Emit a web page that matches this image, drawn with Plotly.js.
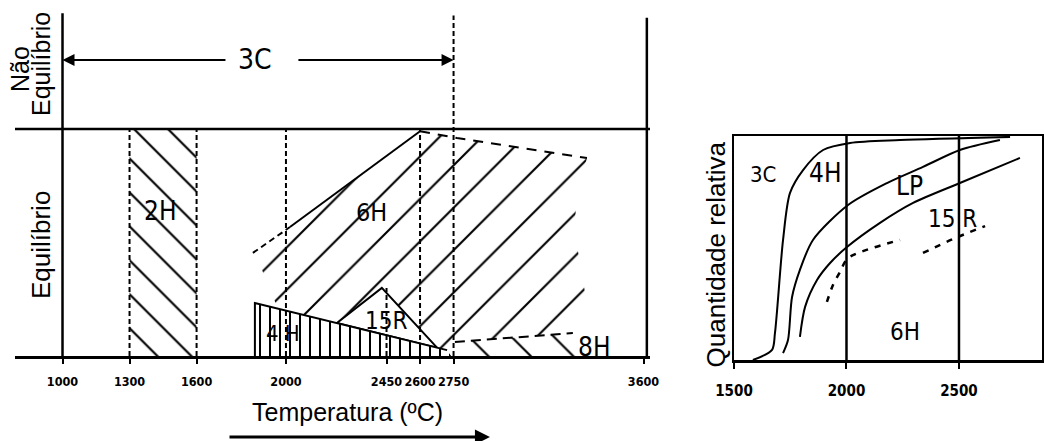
<!DOCTYPE html>
<html>
<head>
<meta charset="utf-8">
<script src="https://cdn.plot.ly/plotly-3.0.1.min.js"></script>
<style>html,body{margin:0;padding:0;background:#fff}#chart{width:1044px;height:441px}</style>
</head>
<body>
<div id="chart"></div>
<script>
// ---------- LEFT PANEL DATA (temperature ºC, relative height: 0 = axis, 100 = equilibrium limit) ----------
const leftTickVals = [1000, 1300, 1600, 2000, 2450, 2600, 2750, 3600];
const leftTickText = ['1000', '1300', '1600', '2000', '2450', '2600', '2750', '3600'];

const region2H_T = [1300, 1600, 1600, 1300];
const region2H_v = [0, 0, 100, 100];

const region6H_T = [1852, 2018, 2600, 2765, 3347, 3307, 3289, 3338, 3159, 2756, 2721, 1964, 1893];
const region6H_v = [45.4, 56.8, 99, 96, 87.2, 73, 56.4, 28.2, 7.9, 6.2, 2.6, 20.8, 37.9];

const region15R_T = [2228, 2429, 2676, 2228];
const region15R_v = [14.5, 30, 3.7, 14.5];

const region4H_T = [1861, 1861, 2740, 2721];
const region4H_v = [23.3, 0, 0, 2.6];

const region8H_T = [2721, 2756, 3284, 3330, 2740];
const region8H_v = [2.6, 6.2, 10.1, 0, 0];

const edge6H_dash_T = [1852, 2018];
const edge6H_dash_v = [45.4, 56.8];
const edge6H_solid_T = [2018, 2600];
const edge6H_solid_v = [56.8, 99];
const edge6H_top_T = [2600, 2765, 3347];
const edge6H_top_v = [99, 96, 87.2];
const edge4H_T = [1861, 1861, 2721];
const edge4H_v = [0, 23.3, 2.6];
const edge8H_T = [2756, 3284];
const edge8H_v = [6.2, 10.1];

const dashTemps = [1300, 1600, 2000, 2450, 2600, 2750];
const dashTops = [100, 100, 100, 30, 100, 150];

const axisLeftT = 1000, axisRightT = 3615;
const axisLeftV = [-2.6, 151], axisRightV = [-1, 149];
const equilibriumV = 100;
const leftRange = [787.4, 3629.1];
const leftVRange = [0, 152.4];

const arrow3C_v = 130.4;
const arrow3C_left = [1736, 1000];
const arrow3C_right = [2049, 2750];

const leftLabels = ['3C', '2H', '6H', '4 H', '15R', '8H'];
const leftLabelT = [1861, 1436, 2381, 1988, 2448, 3379];
const leftLabelV = [130.4, 63.9, 63, 10.1, 15.4, 4.0];
const leftLabelSize = [28, 26, 25, 22, 24, 26];

// ---------- RIGHT PANEL DATA (temperature ºC, relative quantity 0..1) ----------
const rightTickVals = [1500, 2000, 2500];
const rightTickText = ['1500', '2000', '2500'];
const rightRange = [1500, 2869];

const c3C_T = [1584, 1669, 1682, 1718, 1749, 1807, 1896, 2016, 2238, 2727];
const c3C_v = [0, 0.045, 0.12, 0.536, 0.746, 0.848, 0.9375, 0.969, 0.982, 0.996];
const cLP_T = [1718, 1740, 1758, 1793, 1851, 2007, 2180, 2340, 2504, 2682];
const cLP_v = [0.031, 0.089, 0.281, 0.402, 0.536, 0.692, 0.79, 0.862, 0.9375, 0.982];
const c15R_T = [1793, 1816, 1869, 1927, 2002, 2149, 2296, 2504, 2771];
const c15R_v = [0.103, 0.237, 0.357, 0.433, 0.504, 0.612, 0.701, 0.79, 0.902];
const c6H_T = [1913, 1940, 1971, 2007, 2238, null, 2340, 2473, 2616];
const c6H_v = [0.259, 0.335, 0.393, 0.455, 0.536, null, 0.478, 0.54, 0.598];
const gridTemps = [2000, 2500];

const rightLabels = ['3C', '4H', 'LP', '15 R', '6H'];
const rightLabelT = [1631, 1904, 2278, 2470, 2260];
const rightLabelV = [0.826, 0.835, 0.777, 0.63, 0.125];
const rightLabelSize = [22, 26, 26, 24, 24];

// ---------- STYLE ----------
const HAND = '"DejaVu Sans Condensed", "Liberation Sans Narrow", "Arial Narrow", sans-serif';
const SANS = '"Liberation Sans", Arial, sans-serif';
const K = 'black';

function poly(x, y, pattern, xa, ya) {
  return {
    type: 'scatter', mode: 'lines', x: x, y: y, xaxis: xa, yaxis: ya,
    fill: 'toself', line: {width: 0, color: K}, hoverinfo: 'skip',
    fillcolor: 'rgba(255,255,255,0)',
    fillpattern: pattern
  };
}
function line(x, y, xa, ya, width, dash, shape) {
  return {type: 'scatter', mode: 'lines', x: x, y: y, xaxis: xa, yaxis: ya,
    line: {color: K, width: width, dash: dash || 'solid', shape: shape || 'linear', smoothing: 0.8},
    hoverinfo: 'skip', connectgaps: false};
}

const traces = [];
// hatched regions
traces.push(poly(region2H_T, region2H_v, {shape: '\\', size: 24, solidity: 0.09, fgcolor: K, bgcolor: 'white'}, 'x', 'y'));
traces.push(poly(region6H_T, region6H_v, {shape: '/', size: 30, solidity: 0.07, fgcolor: K, bgcolor: 'white'}, 'x', 'y'));
traces.push({type: 'scatter', mode: 'lines', x: region15R_T, y: region15R_v, fill: 'toself', fillcolor: 'white',
  line: {color: K, width: 2}, hoverinfo: 'skip'});
traces.push(poly(region4H_T, region4H_v, {shape: '|', size: 10, solidity: 0.2, fgcolor: K, bgcolor: 'white'}, 'x', 'y'));
traces.push(poly(region8H_T, region8H_v, {shape: '\\', size: 30, solidity: 0.07, fgcolor: K, bgcolor: 'white'}, 'x', 'y'));

// boundaries
traces.push(line(edge6H_dash_T, edge6H_dash_v, 'x', 'y', 2, '6px,4px'));
traces.push(line(edge6H_solid_T, edge6H_solid_v, 'x', 'y', 2));
traces.push(line(edge6H_top_T, edge6H_top_v, 'x', 'y', 2, '10px,8px'));
traces.push(line(edge4H_T, edge4H_v, 'x', 'y', 2));
traces.push(line(edge8H_T, edge8H_v, 'x', 'y', 2, '10px,6px'));

// dashed verticals
const dx = [], dy = [];
dashTemps.forEach((t, i) => { dx.push(t, t, null); dy.push(0, dashTops[i], null); });
traces.push(line(dx, dy, 'x', 'y', 2, '5px,3px'));

// frame lines
traces.push(line([axisLeftT, axisLeftT], axisLeftV, 'x', 'y', 2.5));
traces.push(line([axisRightT, axisRightT], axisRightV, 'x', 'y', 2.5));
traces.push(line(leftRange, [equilibriumV, equilibriumV], 'x', 'y', 2.5));

// right panel
const gx = [], gy = [];
gridTemps.forEach(t => { gx.push(t, t, null); gy.push(0, 1, null); });
traces.push(line(gx, gy, 'x2', 'y2', 2.5));
traces.push(line(c3C_T, c3C_v, 'x2', 'y2', 2, 'solid', 'spline'));
traces.push(line(cLP_T, cLP_v, 'x2', 'y2', 2, 'solid', 'spline'));
traces.push(line(c15R_T, c15R_v, 'x2', 'y2', 2, 'solid', 'spline'));
traces.push(line(c6H_T, c6H_v, 'x2', 'y2', 2.5, '6px,7px', 'spline'));

const annotations = [];
leftLabels.forEach((t, i) => annotations.push({
  text: t, x: leftLabelT[i], y: leftLabelV[i], xref: 'x', yref: 'y', showarrow: false,
  xanchor: 'center', yanchor: 'middle',
  font: {family: HAND, size: leftLabelSize[i], color: K}
}));
rightLabels.forEach((t, i) => annotations.push({
  text: t, x: rightLabelT[i], y: rightLabelV[i], xref: 'x2', yref: 'y2', showarrow: false,
  xanchor: 'center', yanchor: 'middle',
  font: {family: HAND, size: rightLabelSize[i], color: K}
}));
// 3C arrows
annotations.push({x: arrow3C_left[1], y: arrow3C_v, ax: arrow3C_left[0], ay: arrow3C_v, xref: 'x', yref: 'y',
  axref: 'x', ayref: 'y', showarrow: true, arrowhead: 2, arrowsize: 1.2, arrowwidth: 2, arrowcolor: K, text: ''});
annotations.push({x: arrow3C_right[1], y: arrow3C_v, ax: arrow3C_right[0], ay: arrow3C_v, xref: 'x', yref: 'y',
  axref: 'x', ayref: 'y', showarrow: true, arrowhead: 2, arrowsize: 1.2, arrowwidth: 2, arrowcolor: K, text: ''});
// titles
function ptitle(text, x, y, angle, size) {
  return {text: text, x: x, y: y, xref: 'paper', yref: 'paper', xanchor: 'center', yanchor: 'middle',
    textangle: angle, showarrow: false, font: {family: SANS, size: size, color: K}};
}
annotations.push(ptitle('Não', 0.0192, 0.8435, -90, 25));
annotations.push(ptitle('Equilíbrio', 0.0393, 0.8549, -90, 25));
annotations.push(ptitle('Equilíbrio', 0.0393, 0.4444, -90, 26));
annotations.push(ptitle('Temperatura (ºC)', 0.3324, 0.0658, 0, 25));
annotations.push(ptitle('Quantidade relativa', 0.6858, 0.4229, -90, 26));
// bottom direction arrow
annotations.push({x: 0.4693, y: 0.009, ax: 0.2184, ay: 0.009, xref: 'paper', yref: 'paper', axref: 'paper', ayref: 'paper',
  showarrow: true, arrowhead: 2, arrowsize: 1, arrowwidth: 3, arrowcolor: K, text: ''});

const leftTickFont = {family: HAND, size: 12.5, weight: 'bold', color: K};
const rightTickFont = {family: HAND, size: 15, weight: 'bold', color: K};
const layout = {
  width: 1044, height: 441,
  margin: {l: 0, r: 0, t: 0, b: 0, pad: 0},
  paper_bgcolor: 'white', plot_bgcolor: 'rgba(0,0,0,0)',
  showlegend: false,
  xaxis: {domain: [15 / 1044, 650 / 1044], range: leftRange, anchor: 'y',
    tickmode: 'array', tickvals: leftTickVals, ticktext: leftTickText, tickangle: 0,
    ticks: 'outside', ticklen: 5, tickwidth: 2, tickcolor: K, ticklabelstandoff: 7,
    showline: true, linewidth: 2.5, linecolor: K, showgrid: false, zeroline: false, tickfont: leftTickFont},
  yaxis: {domain: [85 / 441, 431 / 441], range: leftVRange, anchor: 'x', visible: false},
  xaxis2: {domain: [734 / 1044, 1042 / 1044], range: rightRange, anchor: 'y2',
    tickmode: 'array', tickvals: rightTickVals, ticktext: rightTickText, tickangle: 0,
    ticks: 'outside', ticklen: 6, tickwidth: 2, tickcolor: K, ticklabelstandoff: 9,
    showline: true, mirror: true, linewidth: 2.5, linecolor: K, showgrid: false, zeroline: false, tickfont: rightTickFont},
  yaxis2: {domain: [81 / 441, 305 / 441], range: [0, 1], anchor: 'x2',
    showline: true, mirror: true, linewidth: 2.5, linecolor: K, showgrid: false, zeroline: false,
    showticklabels: false, ticks: ''},
  annotations: annotations
};

Plotly.newPlot('chart', traces, layout, {staticPlot: true, displayModeBar: false});
</script>
</body>
</html>
